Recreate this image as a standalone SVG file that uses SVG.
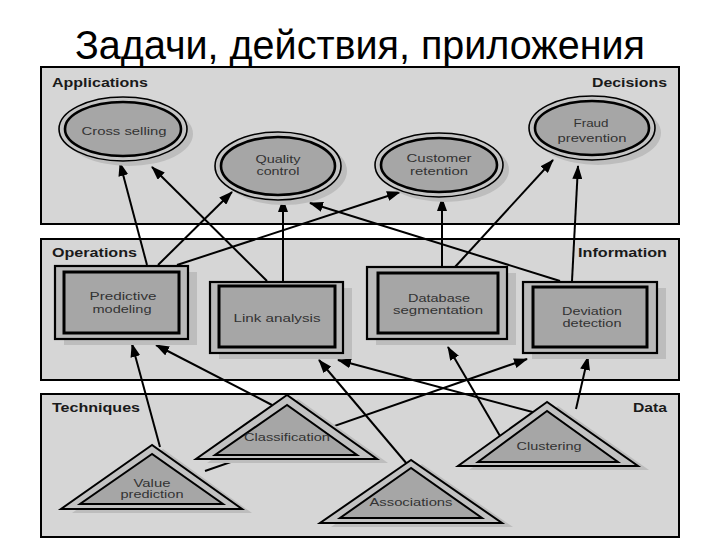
<svg xmlns="http://www.w3.org/2000/svg" width="720" height="540" viewBox="0 0 720 540">
<style>
.panel{fill:#d6d6d6;stroke:#000;stroke-width:2}
.plabel{font-family:"Liberation Sans",Arial,sans-serif;font-size:12px;font-weight:bold;fill:#1a1a1a}
.ntext{font-family:"Liberation Sans",Arial,sans-serif;font-size:11px;fill:#333;text-anchor:middle}
.shadow{fill:#bdbdbd}
.outer{fill:#c4c4c4;stroke:#000;stroke-width:1.6}
.inner{fill:#a6a6a6;stroke:#000;stroke-width:2.6}
.rout{fill:#bababa;stroke:#000;stroke-width:2.2}
.rin{fill:#a6a6a6;stroke:#000;stroke-width:3}
.tout{fill:#c2c2c2;stroke:#000;stroke-width:2}
.tin{fill:#a6a6a6;stroke:#000;stroke-width:2}
.conn line{stroke:#000;stroke-width:2;marker-end:url(#ah)}
.conn line.plain{marker-end:none}
</style>
<defs>
<marker id="ah" viewBox="0 0 14 10" refX="13" refY="5" markerWidth="14" markerHeight="10" markerUnits="userSpaceOnUse" orient="auto"><path d="M0,0 L14,5 L0,10 z" fill="#000"/></marker>
</defs>
<rect width="720" height="540" fill="#fff"/>
<text x="360" y="59" font-family="'Liberation Sans',Arial,sans-serif" font-size="40" text-anchor="middle" textLength="570" lengthAdjust="spacingAndGlyphs" fill="#000">Задачи, действия, приложения</text>

<g id="panels">
<rect class="panel" x="41" y="67" width="638" height="157"/>
<rect class="panel" x="41" y="239" width="638" height="141"/>
<rect class="panel" x="41" y="394" width="638" height="143"/>
<text class="plabel" x="52" y="87" textLength="96" lengthAdjust="spacingAndGlyphs">Applications</text>
<text class="plabel" x="592" y="87" textLength="75" lengthAdjust="spacingAndGlyphs">Decisions</text>
<text class="plabel" x="52" y="257" textLength="85" lengthAdjust="spacingAndGlyphs">Operations</text>
<text class="plabel" x="578" y="257" textLength="89" lengthAdjust="spacingAndGlyphs">Information</text>
<text class="plabel" x="52" y="412" textLength="88" lengthAdjust="spacingAndGlyphs">Techniques</text>
<text class="plabel" x="633" y="412" textLength="34" lengthAdjust="spacingAndGlyphs">Data</text>
</g>

<g id="connectors" class="conn">
<line x1="147" y1="265" x2="120" y2="163"/>
<line x1="267" y1="281" x2="152" y2="167"/>
<line x1="158" y1="265" x2="232" y2="192"/>
<line x1="283" y1="281" x2="283" y2="199"/>
<line x1="560" y1="281" x2="310" y2="203"/>
<line x1="177" y1="265" x2="400" y2="192"/>
<line x1="442" y1="267" x2="442" y2="198"/>
<line x1="455" y1="267" x2="553" y2="160"/>
<line x1="572" y1="281" x2="578" y2="166"/>
<line x1="160" y1="447" x2="132" y2="344"/>
<line x1="272" y1="405" x2="156" y2="345"/>
<line x1="407" y1="464" x2="319" y2="360"/>
<line x1="540" y1="414" x2="338" y2="360"/>
<line x1="500" y1="436" x2="448" y2="347"/>
<line x1="205" y1="471" x2="527" y2="359"/>
<line x1="576" y1="409" x2="588" y2="357"/>
</g>

<g id="cross-selling">
<ellipse class="shadow" cx="129" cy="134" rx="64" ry="32"/>
<ellipse class="outer" cx="123" cy="129" rx="64" ry="32"/>
<ellipse class="inner" cx="123" cy="129" rx="58" ry="27"/>
<text class="ntext" x="124" y="135" textLength="85" lengthAdjust="spacingAndGlyphs">Cross selling</text>
</g>
<g id="quality-control">
<ellipse class="shadow" cx="284" cy="171" rx="63" ry="34"/>
<ellipse class="outer" cx="278" cy="166" rx="63" ry="34"/>
<ellipse class="inner" cx="278" cy="166" rx="57" ry="29"/>
<text class="ntext" x="278" y="163" textLength="45" lengthAdjust="spacingAndGlyphs">Quality</text>
<text class="ntext" x="278" y="175" textLength="43" lengthAdjust="spacingAndGlyphs">control</text>
</g>
<g id="customer-retention">
<ellipse class="shadow" cx="445" cy="170" rx="64" ry="32"/>
<ellipse class="outer" cx="439" cy="165" rx="64" ry="32"/>
<ellipse class="inner" cx="439" cy="165" rx="58" ry="27"/>
<text class="ntext" x="439" y="162" textLength="65" lengthAdjust="spacingAndGlyphs">Customer</text>
<text class="ntext" x="439" y="175" textLength="58" lengthAdjust="spacingAndGlyphs">retention</text>
</g>
<g id="fraud-prevention">
<ellipse class="shadow" cx="598" cy="133" rx="63" ry="32"/>
<ellipse class="outer" cx="592" cy="128" rx="63" ry="32"/>
<ellipse class="inner" cx="592" cy="128" rx="57" ry="27"/>
<text class="ntext" x="591" y="127" textLength="35" lengthAdjust="spacingAndGlyphs">Fraud</text>
<text class="ntext" x="592" y="142" textLength="69" lengthAdjust="spacingAndGlyphs">prevention</text>
</g>

<g id="predictive-modeling">
<rect class="shadow" x="64" y="272" width="133" height="73"/>
<rect class="rout" x="55" y="266" width="133" height="73"/>
<rect class="rin" x="64" y="272" width="115" height="61"/>
<text class="ntext" x="123" y="300" textLength="67" lengthAdjust="spacingAndGlyphs">Predictive</text>
<text class="ntext" x="122" y="313" textLength="59" lengthAdjust="spacingAndGlyphs">modeling</text>
</g>
<g id="link-analysis">
<rect class="shadow" x="219" y="288" width="133" height="71"/>
<rect class="rout" x="210" y="282" width="133" height="71"/>
<rect class="rin" x="219" y="286" width="116" height="61"/>
<text class="ntext" x="277" y="322" textLength="87" lengthAdjust="spacingAndGlyphs">Link analysis</text>
</g>
<g id="database-segmentation">
<rect class="shadow" x="376" y="273" width="140" height="72"/>
<rect class="rout" x="367" y="267" width="140" height="72"/>
<rect class="rin" x="378" y="273" width="120" height="60"/>
<text class="ntext" x="439" y="302" textLength="62" lengthAdjust="spacingAndGlyphs">Database</text>
<text class="ntext" x="438" y="314" textLength="90" lengthAdjust="spacingAndGlyphs">segmentation</text>
</g>
<g id="deviation-detection">
<rect class="shadow" x="532" y="288" width="134" height="71"/>
<rect class="rout" x="523" y="282" width="134" height="71"/>
<rect class="rin" x="533" y="287" width="114" height="60"/>
<text class="ntext" x="592" y="315" textLength="60" lengthAdjust="spacingAndGlyphs">Deviation</text>
<text class="ntext" x="592" y="327" textLength="59" lengthAdjust="spacingAndGlyphs">detection</text>
</g>

<g id="classification">
<polygon class="shadow" points="298,399 207,463 388,463"/>
<polygon class="tout" points="287,395 196,459 377,459"/>
<polygon class="tin" points="287,405 215,455 357,455"/>
<text class="ntext" x="287" y="441" textLength="86" lengthAdjust="spacingAndGlyphs">Classification</text>
</g>
<g id="value-prediction">
<polygon class="shadow" points="163,449 72,513 252,513"/>
<polygon class="tout" points="152,445 61,509 242,509"/>
<polygon class="tin" points="152,454 80,504 223,504"/>
<text class="ntext" x="152" y="487" textLength="37" lengthAdjust="spacingAndGlyphs">Value</text>
<text class="ntext" x="152" y="498" textLength="63" lengthAdjust="spacingAndGlyphs">prediction</text>
</g>
<g id="associations">
<polygon class="shadow" points="422,464 331,527 513,527"/>
<polygon class="tout" points="411,460 320,523 502,523"/>
<polygon class="tin" points="411,468 340,518 482,518"/>
<text class="ntext" x="411" y="506" textLength="83" lengthAdjust="spacingAndGlyphs">Associations</text>
</g>
<g id="clustering">
<polygon class="shadow" points="558,406 469,470 649,470"/>
<polygon class="tout" points="547,402 458,466 638,466"/>
<polygon class="tin" points="547,411 478,462 618,462"/>
<text class="ntext" x="549" y="450" textLength="65" lengthAdjust="spacingAndGlyphs">Clustering</text>
</g>
</svg>
